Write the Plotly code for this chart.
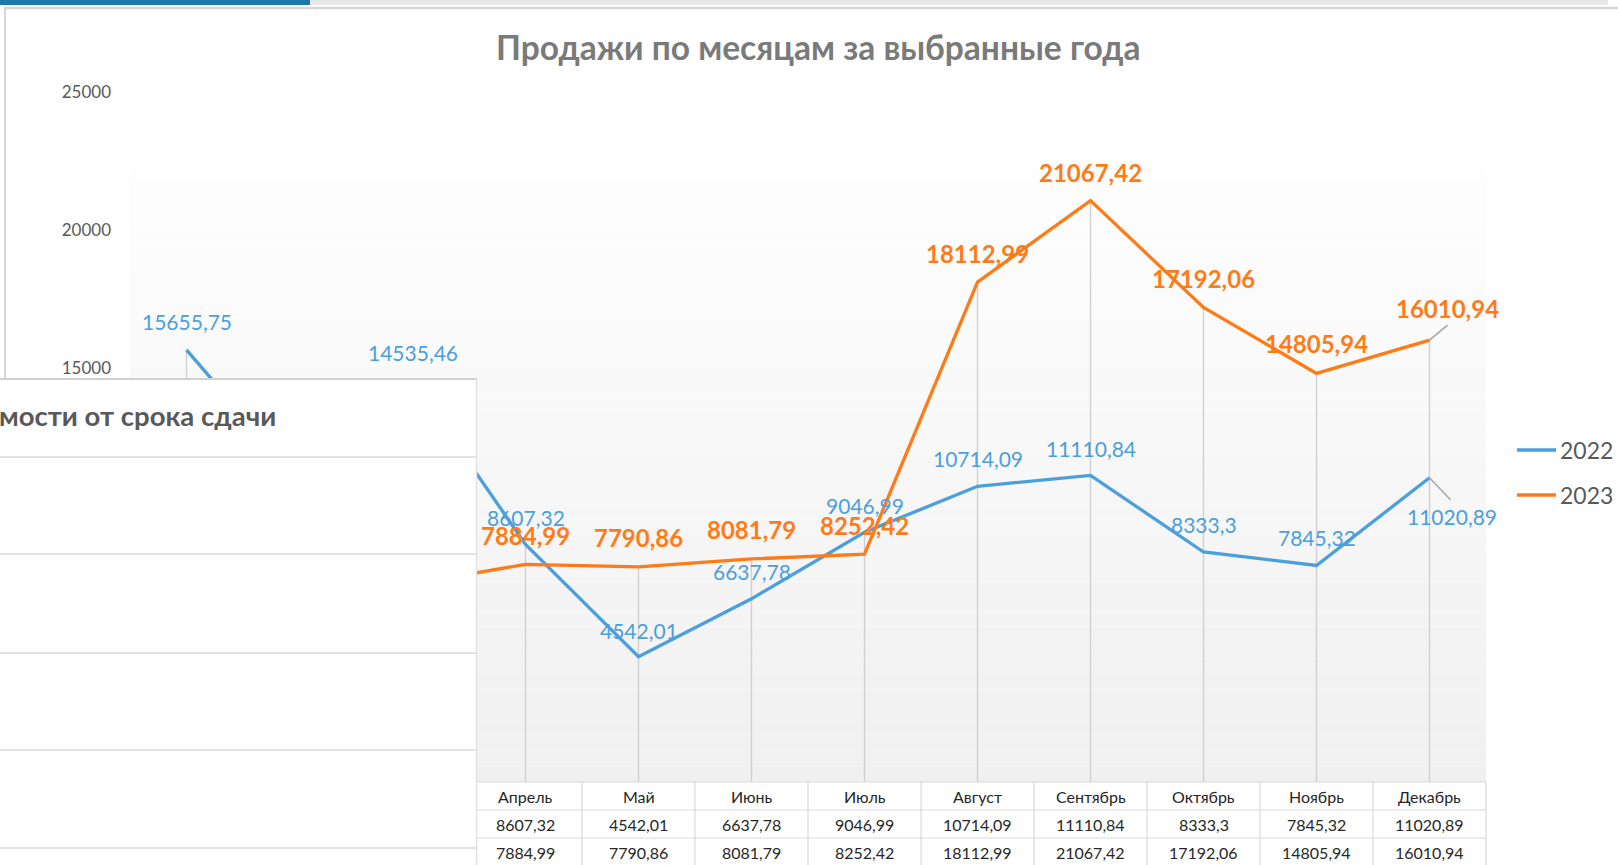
import plotly.graph_objects as go

# ---------------- data ----------------
months = ["Январь", "Февраль", "Март", "Апрель", "Май", "Июнь", "Июль",
          "Август", "Сентябрь", "Октябрь", "Ноябрь", "Декабрь"]
series_names = ["2022", "2023"]
sales_2022 = [15655.75, 10900.00, 14535.46, 8607.32, 4542.01, 6637.78,
              9046.99, 10714.09, 11110.84, 8333.30, 7845.32, 11020.89]
sales_2023 = [6500.00, 7000.00, 7180.00, 7884.99, 7790.86, 8081.79,
              8252.42, 18112.99, 21067.42, 17192.06, 14805.94, 16010.94]
y_tick_values = [0, 5000, 10000, 15000, 20000, 25000]
chart_title = "Продажи по месяцам за выбранные года"
overlay_title = "мости от срока сдачи"

# ---------------- styling ----------------
W, H = 1618, 865
ML, MR, MT, MB = 130, 132, 92, 83
PW, PH = W - ML - MR, H - MT - MB
FONT = "Lato"
BLUE = "#4a9fdc"
ORANGE = "#ff7b17"
GRAY_TXT = "#595959"
TABLE_LINE = "#d9d9d9"
colors = [BLUE, ORANGE]

# label offsets (pixels) per point; None = label hidden behind the overlapping window
label_off_2022 = [(0, 28), None, (0, 28), (0, 27), (0, 26), (0, 27), (0, 27),
                  (0, 28), (0, 27), (0, 28), (0, 28), (22, -39)]
label_off_2023 = [None, None, None, (0, 29), (0, 29), (0, 29), (0, 29),
                  (0, 29), (0, 28), (0, 29), (0, 30), (18, 32)]
leader_2022 = {11: (21, -22)}
leader_2023 = {11: (18, 15)}
first_visible_col = 3  # table columns left of this are covered by the other window


def px_x(x):
    return (x - ML) / PW


def px_y(y):
    return (H - MB - y) / PH


def fmt(v):
    s = f"{v:.2f}".rstrip("0").rstrip(".")
    return s.replace(".", ",")


fig = go.Figure()

# drop lines from the highest point of each month
drop_x, drop_y = [], []
for m, a, b in zip(months, sales_2022, sales_2023):
    drop_x += [m, m, None]
    drop_y += [0, max(a, b), None]
fig.add_trace(go.Scatter(x=drop_x, y=drop_y, mode="lines",
                         line=dict(color="#d0d0d0", width=1.4),
                         hoverinfo="skip", showlegend=False))

for name, vals, col in zip(series_names, [sales_2022, sales_2023], colors):
    fig.add_trace(go.Scatter(x=months, y=vals, mode="lines", name=name,
                             line=dict(color=col, width=3.3), showlegend=False))

shapes = []
annotations = []

# plot-area gradient (white -> light gray), drawn in bands
top_g, bot_g = 165, 782
n_bands = 40
for i in range(n_bands):
    y0 = top_g + (bot_g - top_g) * i / n_bands
    y1 = top_g + (bot_g - top_g) * (i + 1) / n_bands
    c = round(254 - (254 - 240) * (i + 0.5) / n_bands)
    shapes.append(dict(type="rect", xref="paper", yref="paper", layer="below",
                       x0=0, x1=1, y0=px_y(y1), y1=px_y(y0),
                       fillcolor=f"rgb({c},{c},{c})", line=dict(width=0)))

# data labels
for vals, offs, col, bold, size in [(sales_2022, label_off_2022, BLUE, False, 21),
                                    (sales_2023, label_off_2023, ORANGE, True, 24)]:
    for m, v, off in zip(months, vals, offs):
        if off is None:
            continue
        txt = fmt(v)
        if bold:
            txt = f"<b>{txt}</b>"
        annotations.append(dict(x=m, y=v, xref="x", yref="y", text=txt,
                                showarrow=False, xshift=off[0], yshift=off[1],
                                xanchor="center", yanchor="middle",
                                font=dict(family=FONT, size=size, color=col)))

# leader lines
for vals, leaders in [(sales_2022, leader_2022), (sales_2023, leader_2023)]:
    for idx, (dx, dy) in leaders.items():
        shapes.append(dict(type="line", xref="x", yref="y",
                           xsizemode="pixel", ysizemode="pixel",
                           xanchor=idx, yanchor=vals[idx],
                           x0=0, y0=0, x1=dx, y1=dy, layer="above",
                           line=dict(color="#a6a6a6", width=1.5)))

# data table
row_y = [796, 824, 852]
for yline in [782, 810, 838, 866]:
    shapes.append(dict(type="line", xref="paper", yref="paper", layer="above",
                       x0=px_x(0), x1=1, y0=px_y(yline), y1=px_y(yline),
                       line=dict(color=TABLE_LINE, width=1.2)))
for k in range(len(months) + 1):
    shapes.append(dict(type="line", xref="paper", yref="paper", layer="above",
                       x0=k / len(months), x1=k / len(months),
                       y0=px_y(782), y1=px_y(870),
                       line=dict(color=TABLE_LINE, width=1.2)))
for i, m in enumerate(months):
    if i < first_visible_col:
        continue
    for ry, txt in zip(row_y, [m, fmt(sales_2022[i]), fmt(sales_2023[i])]):
        annotations.append(dict(x=m, xref="x", y=px_y(ry), yref="paper", text=txt,
                                showarrow=False, xanchor="center", yanchor="middle",
                                font=dict(family=FONT, size=16, color="#262626")))

# window chrome: top banner and borders
shapes.append(dict(type="rect", xref="paper", yref="paper", layer="above",
                   x0=px_x(0), x1=px_x(310), y0=px_y(5), y1=px_y(-2),
                   fillcolor="#1f78a8", line=dict(width=0)))
shapes.append(dict(type="rect", xref="paper", yref="paper", layer="above",
                   x0=px_x(310), x1=px_x(1608), y0=px_y(5), y1=px_y(-2),
                   fillcolor="#e7e7e7", line=dict(width=0)))
shapes.append(dict(type="line", xref="paper", yref="paper", layer="above",
                   x0=px_x(4), x1=px_x(1625), y0=px_y(8), y1=px_y(8),
                   line=dict(color="#d6d6d6", width=2.5)))
shapes.append(dict(type="line", xref="paper", yref="paper", layer="above",
                   x0=px_x(5), x1=px_x(5), y0=px_y(8), y1=px_y(380),
                   line=dict(color="#d6d6d6", width=2)))

# overlapping window (another chart in front)
shapes.append(dict(type="rect", xref="paper", yref="paper", layer="above",
                   x0=px_x(-5), x1=px_x(476), y0=px_y(870), y1=px_y(379),
                   fillcolor="white", line=dict(width=0)))
for gy in [457, 554, 653, 750, 848]:
    shapes.append(dict(type="line", xref="paper", yref="paper", layer="above",
                       x0=px_x(-5), x1=px_x(476), y0=px_y(gy), y1=px_y(gy),
                       line=dict(color="#d9d9d9", width=1.5)))
shapes.append(dict(type="line", xref="paper", yref="paper", layer="above",
                   x0=px_x(-5), x1=px_x(477), y0=px_y(379), y1=px_y(379),
                   line=dict(color="#d0d0d0", width=2)))
shapes.append(dict(type="line", xref="paper", yref="paper", layer="above",
                   x0=px_x(476.5), x1=px_x(476.5), y0=px_y(379), y1=px_y(870),
                   line=dict(color="#e2e2e2", width=1.5)))
annotations.append(dict(x=px_x(278), y=px_y(416), xref="paper", yref="paper",
                        text=f"<b>{overlay_title}</b>", showarrow=False,
                        xanchor="right", yanchor="middle",
                        font=dict(family=FONT, size=27.5, color=GRAY_TXT)))

# legend (manual, right side)
for name, col, ly in zip(series_names, colors, [450, 495]):
    shapes.append(dict(type="line", xref="paper", yref="paper", layer="above",
                       x0=px_x(1517), x1=px_x(1556), y0=px_y(ly), y1=px_y(ly),
                       line=dict(color=col, width=3.5)))
    annotations.append(dict(x=px_x(1558), y=px_y(ly), xref="paper", yref="paper",
                            text=name, showarrow=False, xanchor="left",
                            yanchor="middle",
                            font=dict(family=FONT, size=23, color=GRAY_TXT)))

# title
annotations.append(dict(x=px_x(818), y=px_y(47), xref="paper", yref="paper",
                        text=f"<b>{chart_title}</b>", showarrow=False,
                        xanchor="center", yanchor="middle",
                        font=dict(family=FONT, size=33.5, color="#7a7a7a")))

fig.update_layout(
    width=W, height=H,
    margin=dict(l=ML, r=MR, t=MT, b=MB, pad=0),
    paper_bgcolor="white", plot_bgcolor="white",
    showlegend=False,
    shapes=shapes, annotations=annotations,
    xaxis=dict(type="category", categoryorder="array", categoryarray=months,
               range=[-0.5, len(months) - 0.5], showticklabels=False,
               showgrid=False, zeroline=False, showline=False, ticks=""),
    yaxis=dict(range=[0, 25000], tickvals=y_tick_values,
               ticktext=[str(v) for v in y_tick_values],
               showgrid=False, zeroline=False, showline=False, ticks="",
               ticklabelstandoff=18,
               tickfont=dict(family=FONT, size=17, color=GRAY_TXT)),
)

fig.write_html("out.html",
               config={"displayModeBar": False},
               post_script="document.body.style.margin='0';"
                           "document.documentElement.style.overflow='hidden';")
